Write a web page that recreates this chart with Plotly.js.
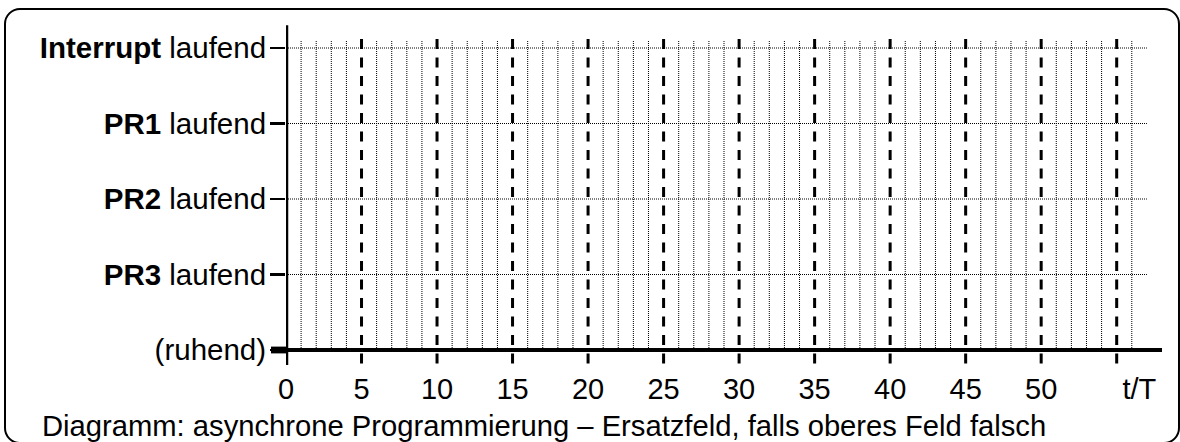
<!DOCTYPE html>
<html>
<head>
<meta charset="utf-8">
<script src="https://cdn.plot.ly/plotly-3.0.1.min.js"></script>
<style>
  html, body { margin: 0; padding: 0; background: #fff; }
  #wrap { position: relative; width: 1180px; height: 442px; overflow: hidden; }
  #chart { position: absolute; left: 0; top: 0; width: 1180px; height: 442px; }
  #frame { position: absolute; left: 4px; top: 8px; width: 1176px; height: 436px;
           box-sizing: border-box; border: 2px solid #000; border-radius: 16px;
           pointer-events: none; }
</style>
</head>
<body>
<div id="wrap">
  <div id="chart"></div>
  <div id="frame"></div>
</div>
<script>
// ---- data ----
const levelValues = [0, 1, 2, 3, 4];
const levelLabels = ["(ruhend)", "<b>PR3</b> laufend", "<b>PR2</b> laufend", "<b>PR1</b> laufend", "<b>Interrupt</b> laufend"];
const timeTickValues = [0, 5, 10, 15, 20, 25, 30, 35, 40, 45, 50, 56.5];
const timeTickLabels = ["0", "5", "10", "15", "20", "25", "30", "35", "40", "45", "50", "t/T"];
const dashedTimes = [5, 10, 15, 20, 25, 30, 35, 40, 45, 50, 55];
const dottedTimes = [1, 2, 3, 4, 6, 7, 8, 9, 11, 12, 13, 14, 16, 17, 18, 19, 21, 22, 23, 24,
                     26, 27, 28, 29, 31, 32, 33, 34, 36, 37, 38, 39, 41, 42, 43, 44,
                     46, 47, 48, 49, 51, 52, 53, 54, 56];
const dottedLevels = [1, 2, 3, 4];
const caption = "Diagramm: asynchrone Programmierung – Ersatzfeld, falls oberes Feld falsch";

// ---- extents (data units) ----
const xMin = 0, xMax = 58;
const yMin = -0.2914, yMax = 4.3046;
const gridTop = 4.1, gridRight = 57;
const dashTop = 4.12, dashBottom = -0.2;
const axisTop = 4.3, axisBottom = -0.2;

const shapes = [];
dottedTimes.forEach(t => shapes.push({
  type: 'line', xref: 'x', yref: 'y', x0: t, x1: t, y0: 0, y1: gridTop,
  line: { color: '#000', width: 1, dash: '1px,1px' }, layer: 'above'
}));
dottedLevels.forEach(v => shapes.push({
  type: 'line', xref: 'x', yref: 'y', x0: 0, x1: gridRight, y0: v, y1: v,
  line: { color: '#000', width: 1, dash: '1px,1px' }, layer: 'above'
}));
dashedTimes.forEach(t => shapes.push({
  type: 'line', xref: 'x', yref: 'y', x0: t, x1: t, y0: dashTop, y1: dashBottom,
  line: { color: '#000', width: 3, dash: '10px,8.5px' }, layer: 'above'
}));
// axis lines
shapes.push({ type: 'line', xref: 'x', yref: 'y', x0: 0, x1: xMax, y0: 0, y1: 0,
  line: { color: '#000', width: 4 }, layer: 'above' });
shapes.push({ type: 'line', xref: 'x', yref: 'y', x0: 0, x1: 0, y0: axisBottom, y1: axisTop,
  line: { color: '#000', width: 4.5 }, layer: 'above' });
// thick tick at resting level
shapes.push({ type: 'rect', xref: 'paper', yref: 'y', x0: -0.0171, x1: 0, y0: -0.045, y1: 0.045,
  line: { width: 0 }, fillcolor: '#000', layer: 'above' });

const font = { family: '"Liberation Sans", Arial, sans-serif', size: 29, color: '#000' };
const yFont = { family: '"Liberation Sans", Arial, sans-serif', size: 29.5, color: '#000' };
const capFont = { family: '"Liberation Sans", Arial, sans-serif', size: 29.2, color: '#000' };

const layout = {
  width: 1180, height: 442,
  margin: { l: 286, r: 18, t: 25, b: 70, pad: 0 },
  paper_bgcolor: '#fff', plot_bgcolor: '#fff',
  showlegend: false,
  font: font,
  xaxis: {
    range: [xMin, xMax], showgrid: false, zeroline: false, showline: false,
    tickmode: 'array', tickvals: timeTickValues, ticktext: timeTickLabels,
    ticks: '', tickfont: font, ticklabelstandoff: -3, fixedrange: true
  },
  yaxis: {
    range: [yMin, yMax], showgrid: false, zeroline: false, showline: false,
    tickmode: 'array', tickvals: levelValues, ticktext: levelLabels,
    ticks: 'outside', ticklen: 15, tickwidth: 2.5, tickcolor: '#000',
    tickfont: yFont, ticklabelstandoff: -2, fixedrange: true
  },
  shapes: shapes,
  annotations: [{
    xref: 'paper', yref: 'paper', x: -0.2808, y: -0.155, xanchor: 'left', yanchor: 'middle',
    text: caption, showarrow: false, font: capFont
  }]
};

Plotly.newPlot('chart', [{ x: [0], y: [0], mode: 'markers', marker: { opacity: 0 }, hoverinfo: 'skip' }],
  layout, { staticPlot: true, displayModeBar: false });
</script>
</body>
</html>
